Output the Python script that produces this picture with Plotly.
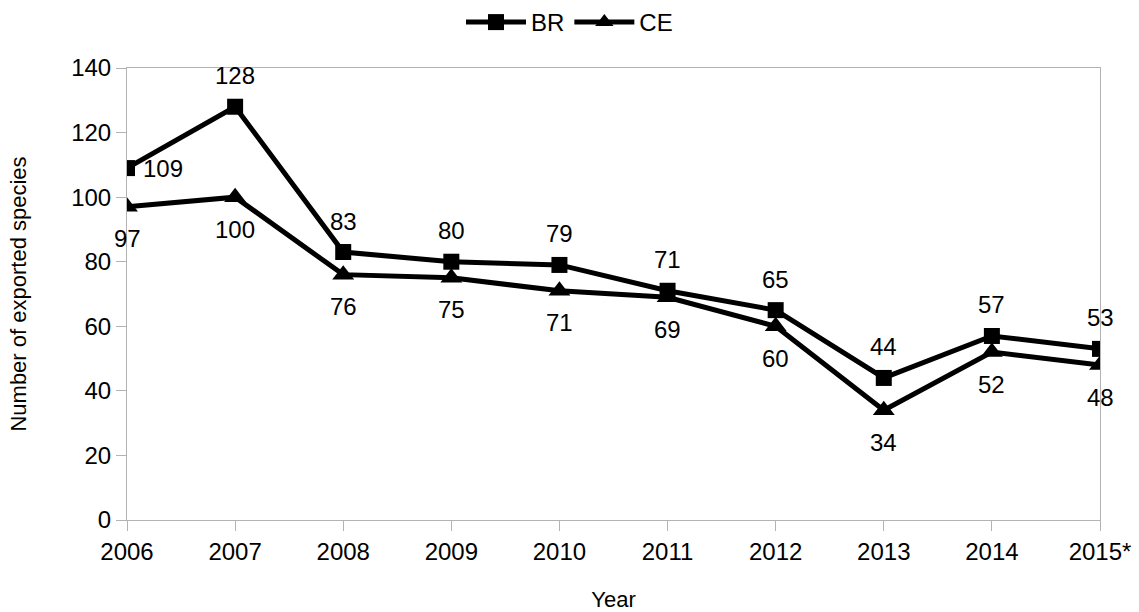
import plotly.graph_objects as go

years = ["2006", "2007", "2008", "2009", "2010", "2011", "2012", "2013", "2014", "2015*"]
br_values = [109, 128, 83, 80, 79, 71, 65, 44, 57, 53]
ce_values = [97, 100, 76, 75, 71, 69, 60, 34, 52, 48]

# label placement for each point: "above", "below" or "right"
br_label_pos = ["right", "above", "above", "above", "above", "above", "above", "above", "above", "above"]
ce_label_pos = ["below"] * len(years)

FONT = "Liberation Sans, Arial, sans-serif"
AXIS_GREY = "#b3b3b3"

fig = go.Figure()
fig.add_trace(go.Scatter(
    x=list(range(len(years))), y=br_values, name="BR", mode="lines+markers",
    line=dict(color="black", width=5),
    marker=dict(symbol="square", size=16, color="black"),
))
fig.add_trace(go.Scatter(
    x=list(range(len(years))), y=ce_values, name="CE", mode="lines+markers",
    line=dict(color="black", width=5),
    marker=dict(symbol="triangle-up", size=19, color="black"),
))

annotations = []
for values, positions in ((br_values, br_label_pos), (ce_values, ce_label_pos)):
    for i, (v, p) in enumerate(zip(values, positions)):
        a = dict(x=i, y=v, text=str(v), showarrow=False,
                 font=dict(family=FONT, size=24, color="black"))
        if p == "above":
            a["yshift"] = 31
        elif p == "below":
            a["yshift"] = -32
        else:
            a["xshift"] = 36
        annotations.append(a)

fig.update_layout(
    width=1139, height=612,
    margin=dict(l=127, r=39, t=68, b=92),
    paper_bgcolor="white", plot_bgcolor="white",
    font=dict(family=FONT, size=24, color="black"),
    showlegend=True,
    legend=dict(orientation="h", xref="container", yref="container",
                x=0.5, xanchor="center", y=1.0, yanchor="top",
                font=dict(size=24), itemwidth=60, traceorder="normal"),
    annotations=annotations,
)
fig.update_xaxes(
    range=[0, len(years) - 1], tickmode="array",
    tickvals=list(range(len(years))), ticktext=years,
    showgrid=False, zeroline=False, automargin=False,
    showline=True, linecolor=AXIS_GREY, linewidth=1, mirror=True,
    ticks="outside", ticklen=10, tickcolor=AXIS_GREY,
    tickfont=dict(size=24),
    title=dict(text="Year", font=dict(size=22), standoff=29),
)
fig.update_yaxes(
    range=[0, 140], tickmode="linear", tick0=0, dtick=20,
    showgrid=False, zeroline=False, automargin=False,
    showline=True, linecolor=AXIS_GREY, linewidth=1, mirror=True,
    ticks="outside", ticklen=10, tickcolor=AXIS_GREY,
    tickfont=dict(size=24),
    title=dict(text="Number of exported species", font=dict(size=22), standoff=38),
)

fig.write_html("out.html")
